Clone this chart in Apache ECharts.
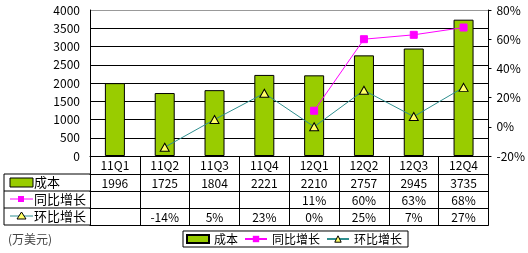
<!DOCTYPE html>
<html><head><meta charset="utf-8">
<script src="https://cdn.jsdelivr.net/npm/echarts@6/dist/echarts.min.js"></script>
<style>html,body{margin:0;padding:0;background:#fff}#c{width:528px;height:253px}</style>
</head><body><div id="c"></div>
<script>
const categories = ['11Q1','11Q2','11Q3','11Q4','12Q1','12Q2','12Q3','12Q4'];
const cost = [1996,1725,1804,2221,2210,2757,2945,3735];
const yoy = [null,null,null,null,11,60,63,68];
const qoq = [null,-14,5,23,0,25,7,27];
const costLabels = ['1996','1725','1804','2221','2210','2757','2945','3735'];
const yoyLabels = ['','','','','11%','60%','63%','68%'];
const qoqLabels = ['','-14%','5%','23%','0%','25%','7%','27%'];
const leftTicks = [0,4000,500];
const rightTicks = [-20,80,20];

const FONT = 'Noto Sans CJK SC';
const chart = echarts.init(document.getElementById('c'));
const green = '#99cc00', magenta = '#ff00ff', teal = '#2f8f8f', triFill = '#ffff66';
const tableAxis = (offset, labels, show) => ({
  type:'category', data:categories, position:'bottom', offset:offset,
  axisLine:{show:true, onZero:false, lineStyle:{color:'#000', width:1}},
  axisTick:{show:false},
  axisLabel:{show:show, interval:0, margin:3, color:'#000', fontFamily:FONT, fontSize:12,
    formatter:(v,i)=>labels[i]}
});
chart.setOption({
  animation:false,
  textStyle:{fontFamily:FONT},
  grid:{left:90, right:31, top:10, bottom:97, containLabel:false},
  xAxis:[
    {type:'category', data:categories, position:'bottom',
     axisLine:{onZero:false, lineStyle:{color:'#000', width:1}},
     axisTick:{show:true, length:69, lineStyle:{color:'#000'}},
     axisLabel:{interval:0, margin:3, color:'#000', fontFamily:FONT, fontSize:12}},
    tableAxis(18, costLabels, true),
    tableAxis(35, yoyLabels, true),
    tableAxis(52, qoqLabels, true),
    tableAxis(69, categories, false)
  ],
  yAxis:[
    {type:'value', min:leftTicks[0], max:leftTicks[1], interval:leftTicks[2],
     axisLine:{show:true, lineStyle:{color:'#000'}},
     axisTick:{show:false},
     axisLabel:{color:'#000', fontFamily:FONT, fontSize:12, margin:10, formatter:v=>String(v)},
     splitLine:{lineStyle:{color:['#000','#000','#000','#000','#000','#000','#000','#000','#999'], width:1}}},
    {type:'value', min:rightTicks[0], max:rightTicks[1], interval:rightTicks[2],
     axisLine:{show:true, lineStyle:{color:'#000'}},
     axisTick:{show:true, length:3, lineStyle:{color:'#000'}},
     axisLabel:{color:'#000', fontFamily:FONT, fontSize:12, margin:8, formatter:'{value}%'},
     splitLine:{show:false}}
  ],
  legend:{
    bottom:6, left:183,
    borderColor:'#000', borderWidth:1, padding:[2,6,2,3], itemGap:6,
    itemWidth:22, itemHeight:8,
    textStyle:{fontFamily:FONT, fontSize:12, color:'#000'},
    data:[{name:'成本', icon:'rect'}, {name:'同比增长'},
          {name:'环比增长', itemStyle:{color:triFill, borderColor:'#000', borderWidth:1}}]
  },
  series:[
    {name:'成本', type:'bar', data:cost, barWidth:20, xAxisIndex:0, yAxisIndex:0,
     itemStyle:{color:green, borderColor:'#000', borderWidth:1}},
    {name:'同比增长', type:'line', data:yoy, xAxisIndex:0, yAxisIndex:1,
     symbol:'rect', symbolSize:7, connectNulls:false,
     lineStyle:{color:magenta, width:1}, itemStyle:{color:magenta, borderColor:magenta}},
    {name:'环比增长', type:'line', data:qoq, xAxisIndex:0, yAxisIndex:1,
     symbol:'triangle', symbolSize:[9,8],
     lineStyle:{color:teal, width:1}, itemStyle:{color:triFill, borderColor:'#000', borderWidth:1}}
  ]
});

// left-hand table column (row headers)
const rowsY = [174,191,208,225];
const g = [];
rowsY.forEach(y=>g.push({type:'line', shape:{x1:4,y1:y,x2:90,y2:y}, style:{stroke:'#000', lineWidth:1}}));
g.push({type:'line', shape:{x1:4,y1:174,x2:4,y2:225}, style:{stroke:'#000', lineWidth:1}});
g.push({type:'rect', shape:{x:10,y:178,width:23,height:9}, style:{fill:green, stroke:'#000', lineWidth:1}});
g.push({type:'text', x:34, y:176, style:{text:'成本', fontFamily:FONT, fontSize:13, fill:'#000'}});
g.push({type:'line', shape:{x1:10,y1:199,x2:33,y2:199}, style:{stroke:magenta, lineWidth:1}});
g.push({type:'rect', shape:{x:18,y:196,width:6,height:6}, style:{fill:magenta}});
g.push({type:'text', x:34, y:193, style:{text:'同比增长', fontFamily:FONT, fontSize:13, fill:'#000'}});
g.push({type:'line', shape:{x1:10,y1:216,x2:33,y2:216}, style:{stroke:teal, lineWidth:1}});
g.push({type:'polygon', shape:{points:[[21.5,212],[17,219],[26,219]]}, style:{fill:triFill, stroke:'#000', lineWidth:1}});
g.push({type:'text', x:34, y:210, style:{text:'环比增长', fontFamily:FONT, fontSize:13, fill:'#000'}});
g.push({type:'text', x:8, y:233, style:{text:'(万美元)', fontFamily:FONT, fontSize:12, fill:'#444'}});
chart.setOption({graphic:g});
</script></body></html>
